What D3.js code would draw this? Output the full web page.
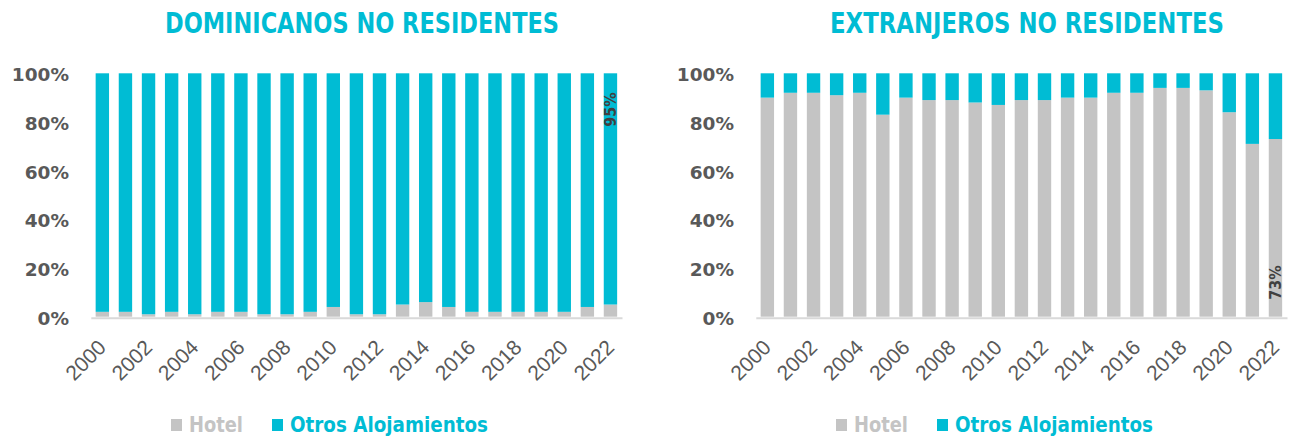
<!DOCTYPE html>
<html>
<head>
<meta charset="utf-8">
<script src="https://cdn.jsdelivr.net/npm/d3@7"></script>
<style>
body { margin: 0; background: #fff; }
</style>
</head>
<body>
<div id="chart"></div>
<script>
var years = ["2000", "2001", "2002", "2003", "2004", "2005", "2006", "2007", "2008", "2009", "2010", "2011",
    "2012", "2013", "2014", "2015", "2016", "2017", "2018", "2019", "2020", "2021", "2022"];

// Dominicanos no residentes (%)
var domHotel = [2, 2, 1, 2, 1, 2, 2, 1, 1, 2, 4, 1, 1, 5, 6, 4, 2, 2, 2, 2, 2, 4, 5];
var domOtros = [98, 98, 99, 98, 99, 98, 98, 99, 99, 98, 96, 99, 99, 95, 94, 96, 98, 98, 98, 98, 98, 96, 95];

// Extranjeros no residentes (%)
var extHotel = [90, 92, 92, 91, 92, 83, 90, 89, 89, 88, 87, 89, 89, 90, 90, 92, 92, 94, 94, 93, 84, 71, 73];
var extOtros = [10, 8, 8, 9, 8, 17, 10, 11, 11, 12, 13, 11, 11, 10, 10, 8, 8, 6, 6, 7, 16, 29, 27];

var yTicks = [0, 0.2, 0.4, 0.6, 0.8, 1];
var xTicks = ["2000", "2002", "2004", "2006", "2008", "2010", "2012", "2014", "2016", "2018", "2020", "2022"];
var seriesNames = ["Hotel", "Otros Alojamientos"];

var svgWidth = 1289;
var svgHeight = 438;

var cyan = "#00bcd4";
var grey = "#c4c4c4";
var condensed = "'Liberation Sans Narrow', 'DejaVu Sans Condensed', 'Liberation Sans', sans-serif";

var svg = d3.select("#chart")
    .append("svg")
    .attr("width", svgWidth)
    .attr("height", svgHeight);

var panels = [
    { title: "DOMINICANOS NO RESIDENTES", hotel: domHotel, otros: domOtros, shift: 0, labelKey: "Otros Alojamientos" },
    { title: "EXTRANJEROS NO RESIDENTES", hotel: extHotel, otros: extOtros, shift: 665, labelKey: "Hotel" }
];

var yScale = d3.scaleLinear()
    .domain([0, 1])
    .range([316.7, 73.3]);

panels.forEach(function (p) {
    var g = svg.append("g")
        .attr("transform", `translate(${p.shift}, 0)`);

    var rows = years.map(function (y, i) {
        return { year: y, "Hotel": p.hotel[i] / 100, "Otros Alojamientos": p.otros[i] / 100 };
    });

    var xScale = d3.scaleBand()
        .domain(years)
        .range([90.8, 622])
        .paddingInner(0.42)
        .paddingOuter(0.21);

    var stack = d3.stack().keys(seriesNames)(rows);
    var colors = d3.scaleOrdinal().domain(seriesNames).range([grey, cyan]);

    // title
    g.append("text")
        .attr("x", 362)
        .attr("y", 33)
        .attr("text-anchor", "middle")
        .attr("font-family", condensed)
        .attr("font-weight", "bold")
        .attr("font-size", "28px")
        .attr("textLength", 394)
        .attr("lengthAdjust", "spacingAndGlyphs")
        .attr("fill", cyan)
        .text(p.title);

    // y axis labels
    var leftAxis = d3.axisLeft(yScale)
        .tickValues(yTicks)
        .tickFormat(d3.format(".0%"))
        .tickSize(0)
        .tickPadding(0);

    g.append("g")
        .attr("transform", "translate(69, 0)")
        .call(leftAxis)
        .call(function (a) { a.select(".domain").remove(); })
        .selectAll("text")
        .attr("font-family", "'DejaVu Sans', sans-serif")
        .attr("font-weight", "bold")
        .attr("font-size", "18.5px")
        .attr("fill", "#595959")
        .attr("dy", "0.4em");

    // bars
    g.selectAll(".series")
        .data(stack)
        .enter()
        .append("g")
        .attr("fill", d => colors(d.key))
        .selectAll("rect")
        .data(d => d)
        .enter()
        .append("rect")
        .attr("x", d => xScale(d.data.year))
        .attr("y", d => yScale(d[1]))
        .attr("width", xScale.bandwidth())
        .attr("height", d => yScale(d[0]) - yScale(d[1]));

    // x axis
    var bottomAxis = d3.axisBottom(xScale)
        .tickValues(xTicks)
        .tickSize(0)
        .tickPadding(0);

    var xAxis = g.append("g")
        .attr("transform", `translate(0, ${yScale(0) + 1})`)
        .call(bottomAxis);

    xAxis.select(".domain")
        .attr("stroke", "#d9d9d9")
        .attr("stroke-width", 2);

    xAxis.selectAll("text")
        .attr("y", 0)
        .attr("dy", 0)
        .attr("transform", "translate(5, 31) rotate(-45)")
        .attr("text-anchor", "end")
        .attr("font-family", "'Liberation Sans', Arial, sans-serif")
        .attr("font-size", "21px")
        .attr("fill", "#595959");

    // data label on last bar
    var last = years[years.length - 1];
    var lastRow = rows[rows.length - 1];
    var cx = xScale(last) + xScale.bandwidth() / 2 + 6;
    var isTop = p.labelKey === "Otros Alojamientos";
    var ly = isTop ? yScale(1) + 19 : yScale(0) - 17;
    g.append("text")
        .attr("transform", `translate(${cx}, ${ly}) rotate(-90)`)
        .attr("text-anchor", isTop ? "end" : "start")
        .attr("font-family", condensed)
        .attr("font-weight", "bold")
        .attr("font-size", "16px")
        .attr("fill", "#404040")
        .text(d3.format(".0%")(lastRow[p.labelKey]));

    // legend
    var legend = g.append("g");
    var legendItems = [
        { name: "Hotel", x: 171, w: 54, color: grey },
        { name: "Otros Alojamientos", x: 272, w: 198, color: cyan }
    ];
    legendItems.forEach(function (item) {
        legend.append("rect")
            .attr("x", item.x)
            .attr("y", 419)
            .attr("width", 11)
            .attr("height", 12)
            .attr("fill", item.color);
        legend.append("text")
            .attr("x", item.x + 18)
            .attr("y", 432)
            .attr("font-family", condensed)
            .attr("font-weight", "bold")
            .attr("font-size", "21px")
            .attr("textLength", item.w)
            .attr("lengthAdjust", "spacingAndGlyphs")
            .attr("fill", item.color)
            .text(item.name);
    });
});
</script>
</body>
</html>
